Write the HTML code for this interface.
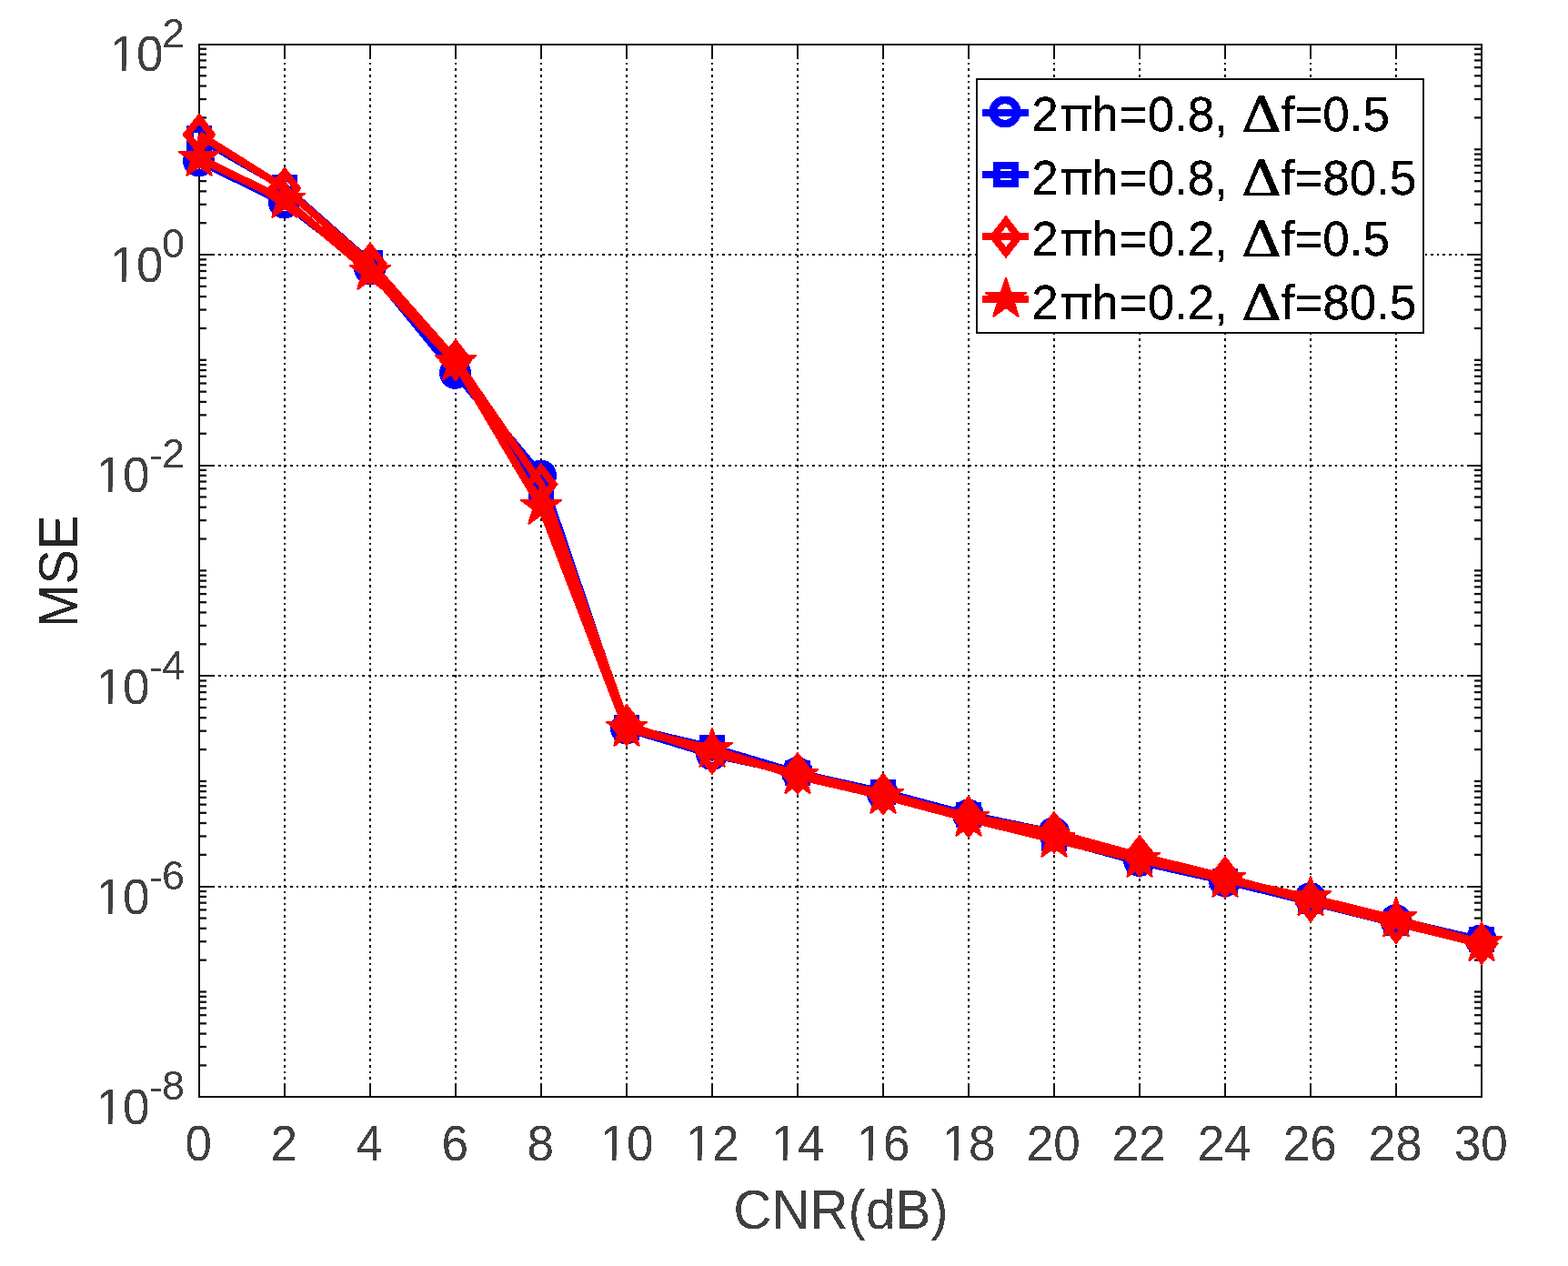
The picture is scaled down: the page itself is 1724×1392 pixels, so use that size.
<!DOCTYPE html>
<html lang="en"><head><meta charset="utf-8"><title>MSE versus CNR</title>
<style>html,body{margin:0;padding:0;background:#fff}body{width:1724px;height:1392px;overflow:hidden}svg{display:block}text{font-family:"Liberation Sans", sans-serif}</style>
</head><body>
<svg width="1724" height="1392" viewBox="0 0 1724 1392" role="img" aria-label="MSE versus CNR(dB)">
<rect x="0" y="0" width="1724" height="1392" fill="#ffffff"/>
<defs><filter id="hard" x="-5%" y="-5%" width="110%" height="110%" color-interpolation-filters="sRGB"><feComponentTransfer><feFuncA type="discrete" tableValues="0 1"/></feComponentTransfer></filter></defs>
<g id="grid" stroke="#000000" stroke-width="2" fill="none" stroke-dasharray="2.6 4" shape-rendering="crispEdges">
<line x1="313" y1="1206.5" x2="313" y2="49"/>
<line x1="407" y1="1206.5" x2="407" y2="49"/>
<line x1="501" y1="1206.5" x2="501" y2="49"/>
<line x1="595" y1="1206.5" x2="595" y2="49"/>
<line x1="689" y1="1206.5" x2="689" y2="49"/>
<line x1="783" y1="1206.5" x2="783" y2="49"/>
<line x1="877" y1="1206.5" x2="877" y2="49"/>
<line x1="971" y1="1206.5" x2="971" y2="49"/>
<line x1="1065" y1="1206.5" x2="1065" y2="49"/>
<line x1="1159" y1="1206.5" x2="1159" y2="49"/>
<line x1="1253" y1="1206.5" x2="1253" y2="49"/>
<line x1="1347" y1="1206.5" x2="1347" y2="49"/>
<line x1="1441" y1="1206.5" x2="1441" y2="49"/>
<line x1="1535" y1="1206.5" x2="1535" y2="49"/>
<line x1="220.2" y1="280" x2="1629" y2="280"/>
<line x1="220.2" y1="512" x2="1629" y2="512"/>
<line x1="220.2" y1="743" x2="1629" y2="743"/>
<line x1="220.2" y1="975" x2="1629" y2="975"/>
</g>
<g id="ticks-major" stroke="#111111" stroke-width="2" fill="none" shape-rendering="crispEdges">
<line x1="313" y1="1206" x2="313" y2="1191"/>
<line x1="313" y1="49" x2="313" y2="64"/>
<line x1="407" y1="1206" x2="407" y2="1191"/>
<line x1="407" y1="49" x2="407" y2="64"/>
<line x1="501" y1="1206" x2="501" y2="1191"/>
<line x1="501" y1="49" x2="501" y2="64"/>
<line x1="595" y1="1206" x2="595" y2="1191"/>
<line x1="595" y1="49" x2="595" y2="64"/>
<line x1="689" y1="1206" x2="689" y2="1191"/>
<line x1="689" y1="49" x2="689" y2="64"/>
<line x1="783" y1="1206" x2="783" y2="1191"/>
<line x1="783" y1="49" x2="783" y2="64"/>
<line x1="877" y1="1206" x2="877" y2="1191"/>
<line x1="877" y1="49" x2="877" y2="64"/>
<line x1="971" y1="1206" x2="971" y2="1191"/>
<line x1="971" y1="49" x2="971" y2="64"/>
<line x1="1065" y1="1206" x2="1065" y2="1191"/>
<line x1="1065" y1="49" x2="1065" y2="64"/>
<line x1="1159" y1="1206" x2="1159" y2="1191"/>
<line x1="1159" y1="49" x2="1159" y2="64"/>
<line x1="1253" y1="1206" x2="1253" y2="1191"/>
<line x1="1253" y1="49" x2="1253" y2="64"/>
<line x1="1347" y1="1206" x2="1347" y2="1191"/>
<line x1="1347" y1="49" x2="1347" y2="64"/>
<line x1="1441" y1="1206" x2="1441" y2="1191"/>
<line x1="1441" y1="49" x2="1441" y2="64"/>
<line x1="1535" y1="1206" x2="1535" y2="1191"/>
<line x1="1535" y1="49" x2="1535" y2="64"/>
<line x1="219" y1="280" x2="234" y2="280"/>
<line x1="1629" y1="280" x2="1614" y2="280"/>
<line x1="219" y1="512" x2="234" y2="512"/>
<line x1="1629" y1="512" x2="1614" y2="512"/>
<line x1="219" y1="743" x2="234" y2="743"/>
<line x1="1629" y1="743" x2="1614" y2="743"/>
<line x1="219" y1="975" x2="234" y2="975"/>
<line x1="1629" y1="975" x2="1614" y2="975"/>
</g>
<g id="ticks-minor" stroke="#101010" stroke-width="2.3" fill="none">
<line x1="219" y1="1171.43" x2="227" y2="1171.43"/>
<line x1="1629" y1="1171.43" x2="1621" y2="1171.43"/>
<line x1="219" y1="1151.04" x2="227" y2="1151.04"/>
<line x1="1629" y1="1151.04" x2="1621" y2="1151.04"/>
<line x1="219" y1="1136.57" x2="227" y2="1136.57"/>
<line x1="1629" y1="1136.57" x2="1621" y2="1136.57"/>
<line x1="219" y1="1125.35" x2="227" y2="1125.35"/>
<line x1="1629" y1="1125.35" x2="1621" y2="1125.35"/>
<line x1="219" y1="1116.19" x2="227" y2="1116.19"/>
<line x1="1629" y1="1116.19" x2="1621" y2="1116.19"/>
<line x1="219" y1="1108.43" x2="227" y2="1108.43"/>
<line x1="1629" y1="1108.43" x2="1621" y2="1108.43"/>
<line x1="219" y1="1101.72" x2="227" y2="1101.72"/>
<line x1="1629" y1="1101.72" x2="1621" y2="1101.72"/>
<line x1="219" y1="1095.8" x2="227" y2="1095.8"/>
<line x1="1629" y1="1095.8" x2="1621" y2="1095.8"/>
<line x1="219" y1="1090.5" x2="227" y2="1090.5"/>
<line x1="1629" y1="1090.5" x2="1621" y2="1090.5"/>
<line x1="219" y1="1055.65" x2="227" y2="1055.65"/>
<line x1="1629" y1="1055.65" x2="1621" y2="1055.65"/>
<line x1="219" y1="1035.26" x2="227" y2="1035.26"/>
<line x1="1629" y1="1035.26" x2="1621" y2="1035.26"/>
<line x1="219" y1="1020.79" x2="227" y2="1020.79"/>
<line x1="1629" y1="1020.79" x2="1621" y2="1020.79"/>
<line x1="219" y1="1009.57" x2="227" y2="1009.57"/>
<line x1="1629" y1="1009.57" x2="1621" y2="1009.57"/>
<line x1="219" y1="1000.41" x2="227" y2="1000.41"/>
<line x1="1629" y1="1000.41" x2="1621" y2="1000.41"/>
<line x1="219" y1="992.65" x2="227" y2="992.65"/>
<line x1="1629" y1="992.65" x2="1621" y2="992.65"/>
<line x1="219" y1="985.94" x2="227" y2="985.94"/>
<line x1="1629" y1="985.94" x2="1621" y2="985.94"/>
<line x1="219" y1="980.02" x2="227" y2="980.02"/>
<line x1="1629" y1="980.02" x2="1621" y2="980.02"/>
<line x1="219" y1="939.87" x2="227" y2="939.87"/>
<line x1="1629" y1="939.87" x2="1621" y2="939.87"/>
<line x1="219" y1="919.48" x2="227" y2="919.48"/>
<line x1="1629" y1="919.48" x2="1621" y2="919.48"/>
<line x1="219" y1="905.01" x2="227" y2="905.01"/>
<line x1="1629" y1="905.01" x2="1621" y2="905.01"/>
<line x1="219" y1="893.79" x2="227" y2="893.79"/>
<line x1="1629" y1="893.79" x2="1621" y2="893.79"/>
<line x1="219" y1="884.63" x2="227" y2="884.63"/>
<line x1="1629" y1="884.63" x2="1621" y2="884.63"/>
<line x1="219" y1="876.87" x2="227" y2="876.87"/>
<line x1="1629" y1="876.87" x2="1621" y2="876.87"/>
<line x1="219" y1="870.16" x2="227" y2="870.16"/>
<line x1="1629" y1="870.16" x2="1621" y2="870.16"/>
<line x1="219" y1="864.24" x2="227" y2="864.24"/>
<line x1="1629" y1="864.24" x2="1621" y2="864.24"/>
<line x1="219" y1="858.94" x2="227" y2="858.94"/>
<line x1="1629" y1="858.94" x2="1621" y2="858.94"/>
<line x1="219" y1="824.09" x2="227" y2="824.09"/>
<line x1="1629" y1="824.09" x2="1621" y2="824.09"/>
<line x1="219" y1="803.7" x2="227" y2="803.7"/>
<line x1="1629" y1="803.7" x2="1621" y2="803.7"/>
<line x1="219" y1="789.23" x2="227" y2="789.23"/>
<line x1="1629" y1="789.23" x2="1621" y2="789.23"/>
<line x1="219" y1="778.01" x2="227" y2="778.01"/>
<line x1="1629" y1="778.01" x2="1621" y2="778.01"/>
<line x1="219" y1="768.85" x2="227" y2="768.85"/>
<line x1="1629" y1="768.85" x2="1621" y2="768.85"/>
<line x1="219" y1="761.09" x2="227" y2="761.09"/>
<line x1="1629" y1="761.09" x2="1621" y2="761.09"/>
<line x1="219" y1="754.38" x2="227" y2="754.38"/>
<line x1="1629" y1="754.38" x2="1621" y2="754.38"/>
<line x1="219" y1="748.46" x2="227" y2="748.46"/>
<line x1="1629" y1="748.46" x2="1621" y2="748.46"/>
<line x1="219" y1="708.31" x2="227" y2="708.31"/>
<line x1="1629" y1="708.31" x2="1621" y2="708.31"/>
<line x1="219" y1="687.92" x2="227" y2="687.92"/>
<line x1="1629" y1="687.92" x2="1621" y2="687.92"/>
<line x1="219" y1="673.45" x2="227" y2="673.45"/>
<line x1="1629" y1="673.45" x2="1621" y2="673.45"/>
<line x1="219" y1="662.23" x2="227" y2="662.23"/>
<line x1="1629" y1="662.23" x2="1621" y2="662.23"/>
<line x1="219" y1="653.07" x2="227" y2="653.07"/>
<line x1="1629" y1="653.07" x2="1621" y2="653.07"/>
<line x1="219" y1="645.31" x2="227" y2="645.31"/>
<line x1="1629" y1="645.31" x2="1621" y2="645.31"/>
<line x1="219" y1="638.6" x2="227" y2="638.6"/>
<line x1="1629" y1="638.6" x2="1621" y2="638.6"/>
<line x1="219" y1="632.68" x2="227" y2="632.68"/>
<line x1="1629" y1="632.68" x2="1621" y2="632.68"/>
<line x1="219" y1="627.38" x2="227" y2="627.38"/>
<line x1="1629" y1="627.38" x2="1621" y2="627.38"/>
<line x1="219" y1="592.53" x2="227" y2="592.53"/>
<line x1="1629" y1="592.53" x2="1621" y2="592.53"/>
<line x1="219" y1="572.14" x2="227" y2="572.14"/>
<line x1="1629" y1="572.14" x2="1621" y2="572.14"/>
<line x1="219" y1="557.67" x2="227" y2="557.67"/>
<line x1="1629" y1="557.67" x2="1621" y2="557.67"/>
<line x1="219" y1="546.45" x2="227" y2="546.45"/>
<line x1="1629" y1="546.45" x2="1621" y2="546.45"/>
<line x1="219" y1="537.29" x2="227" y2="537.29"/>
<line x1="1629" y1="537.29" x2="1621" y2="537.29"/>
<line x1="219" y1="529.53" x2="227" y2="529.53"/>
<line x1="1629" y1="529.53" x2="1621" y2="529.53"/>
<line x1="219" y1="522.82" x2="227" y2="522.82"/>
<line x1="1629" y1="522.82" x2="1621" y2="522.82"/>
<line x1="219" y1="516.9" x2="227" y2="516.9"/>
<line x1="1629" y1="516.9" x2="1621" y2="516.9"/>
<line x1="219" y1="476.75" x2="227" y2="476.75"/>
<line x1="1629" y1="476.75" x2="1621" y2="476.75"/>
<line x1="219" y1="456.36" x2="227" y2="456.36"/>
<line x1="1629" y1="456.36" x2="1621" y2="456.36"/>
<line x1="219" y1="441.89" x2="227" y2="441.89"/>
<line x1="1629" y1="441.89" x2="1621" y2="441.89"/>
<line x1="219" y1="430.67" x2="227" y2="430.67"/>
<line x1="1629" y1="430.67" x2="1621" y2="430.67"/>
<line x1="219" y1="421.51" x2="227" y2="421.51"/>
<line x1="1629" y1="421.51" x2="1621" y2="421.51"/>
<line x1="219" y1="413.75" x2="227" y2="413.75"/>
<line x1="1629" y1="413.75" x2="1621" y2="413.75"/>
<line x1="219" y1="407.04" x2="227" y2="407.04"/>
<line x1="1629" y1="407.04" x2="1621" y2="407.04"/>
<line x1="219" y1="401.12" x2="227" y2="401.12"/>
<line x1="1629" y1="401.12" x2="1621" y2="401.12"/>
<line x1="219" y1="395.82" x2="227" y2="395.82"/>
<line x1="1629" y1="395.82" x2="1621" y2="395.82"/>
<line x1="219" y1="360.97" x2="227" y2="360.97"/>
<line x1="1629" y1="360.97" x2="1621" y2="360.97"/>
<line x1="219" y1="340.58" x2="227" y2="340.58"/>
<line x1="1629" y1="340.58" x2="1621" y2="340.58"/>
<line x1="219" y1="326.11" x2="227" y2="326.11"/>
<line x1="1629" y1="326.11" x2="1621" y2="326.11"/>
<line x1="219" y1="314.89" x2="227" y2="314.89"/>
<line x1="1629" y1="314.89" x2="1621" y2="314.89"/>
<line x1="219" y1="305.73" x2="227" y2="305.73"/>
<line x1="1629" y1="305.73" x2="1621" y2="305.73"/>
<line x1="219" y1="297.97" x2="227" y2="297.97"/>
<line x1="1629" y1="297.97" x2="1621" y2="297.97"/>
<line x1="219" y1="291.26" x2="227" y2="291.26"/>
<line x1="1629" y1="291.26" x2="1621" y2="291.26"/>
<line x1="219" y1="285.34" x2="227" y2="285.34"/>
<line x1="1629" y1="285.34" x2="1621" y2="285.34"/>
<line x1="219" y1="245.19" x2="227" y2="245.19"/>
<line x1="1629" y1="245.19" x2="1621" y2="245.19"/>
<line x1="219" y1="224.8" x2="227" y2="224.8"/>
<line x1="1629" y1="224.8" x2="1621" y2="224.8"/>
<line x1="219" y1="210.33" x2="227" y2="210.33"/>
<line x1="1629" y1="210.33" x2="1621" y2="210.33"/>
<line x1="219" y1="199.11" x2="227" y2="199.11"/>
<line x1="1629" y1="199.11" x2="1621" y2="199.11"/>
<line x1="219" y1="189.95" x2="227" y2="189.95"/>
<line x1="1629" y1="189.95" x2="1621" y2="189.95"/>
<line x1="219" y1="182.19" x2="227" y2="182.19"/>
<line x1="1629" y1="182.19" x2="1621" y2="182.19"/>
<line x1="219" y1="175.48" x2="227" y2="175.48"/>
<line x1="1629" y1="175.48" x2="1621" y2="175.48"/>
<line x1="219" y1="169.56" x2="227" y2="169.56"/>
<line x1="1629" y1="169.56" x2="1621" y2="169.56"/>
<line x1="219" y1="164.26" x2="227" y2="164.26"/>
<line x1="1629" y1="164.26" x2="1621" y2="164.26"/>
<line x1="219" y1="129.41" x2="227" y2="129.41"/>
<line x1="1629" y1="129.41" x2="1621" y2="129.41"/>
<line x1="219" y1="109.02" x2="227" y2="109.02"/>
<line x1="1629" y1="109.02" x2="1621" y2="109.02"/>
<line x1="219" y1="94.55" x2="227" y2="94.55"/>
<line x1="1629" y1="94.55" x2="1621" y2="94.55"/>
<line x1="219" y1="83.33" x2="227" y2="83.33"/>
<line x1="1629" y1="83.33" x2="1621" y2="83.33"/>
<line x1="219" y1="74.17" x2="227" y2="74.17"/>
<line x1="1629" y1="74.17" x2="1621" y2="74.17"/>
<line x1="219" y1="66.41" x2="227" y2="66.41"/>
<line x1="1629" y1="66.41" x2="1621" y2="66.41"/>
<line x1="219" y1="59.7" x2="227" y2="59.7"/>
<line x1="1629" y1="59.7" x2="1621" y2="59.7"/>
<line x1="219" y1="53.78" x2="227" y2="53.78"/>
<line x1="1629" y1="53.78" x2="1621" y2="53.78"/>
</g>
<rect id="box" x="219" y="49" width="1410" height="1157" fill="none" stroke="#0a0a0a" stroke-width="2" shape-rendering="crispEdges"/>
<g id="data" shape-rendering="crispEdges">
<polyline points="219,177 313,223 407,295.5 501,410.3 595,523 689,801 783,829.5 877,849.7 971,873 1065,896 1159,915.6 1253,946.4 1347,968.8 1441,987.6 1535,1011.9 1629,1033.8" fill="none" stroke="#0000ff" stroke-width="8.4" stroke-linejoin="round"/>
<circle cx="218.6" cy="177" r="13.2" fill="none" stroke="#0000ff" stroke-width="8.6"/>
<circle cx="312.6" cy="223" r="13.2" fill="none" stroke="#0000ff" stroke-width="8.6"/>
<circle cx="406.6" cy="295.5" r="13.2" fill="none" stroke="#0000ff" stroke-width="8.6"/>
<circle cx="500.6" cy="410.3" r="13.2" fill="none" stroke="#0000ff" stroke-width="8.6"/>
<circle cx="594.6" cy="523" r="13.2" fill="none" stroke="#0000ff" stroke-width="8.6"/>
<circle cx="688.6" cy="801" r="13.2" fill="none" stroke="#0000ff" stroke-width="8.6"/>
<circle cx="782.6" cy="829.5" r="13.2" fill="none" stroke="#0000ff" stroke-width="8.6"/>
<circle cx="876.6" cy="849.7" r="13.2" fill="none" stroke="#0000ff" stroke-width="8.6"/>
<circle cx="970.6" cy="873" r="13.2" fill="none" stroke="#0000ff" stroke-width="8.6"/>
<circle cx="1064.6" cy="896" r="13.2" fill="none" stroke="#0000ff" stroke-width="8.6"/>
<circle cx="1158.6" cy="915.6" r="13.2" fill="none" stroke="#0000ff" stroke-width="8.6"/>
<circle cx="1252.6" cy="946.4" r="13.2" fill="none" stroke="#0000ff" stroke-width="8.6"/>
<circle cx="1346.6" cy="968.8" r="13.2" fill="none" stroke="#0000ff" stroke-width="8.6"/>
<circle cx="1440.6" cy="987.6" r="13.2" fill="none" stroke="#0000ff" stroke-width="8.6"/>
<circle cx="1534.6" cy="1011.9" r="13.2" fill="none" stroke="#0000ff" stroke-width="8.6"/>
<circle cx="1628.6" cy="1033.8" r="13.2" fill="none" stroke="#0000ff" stroke-width="8.6"/>
<polyline points="219,152 313,206 407,289 501,405 595,538 689,800 783,822 877,850 971,871 1065,896 1159,921.7 1253,947.5 1347,968.5 1441,991.5 1535,1015.3 1629,1033" fill="none" stroke="#0000ff" stroke-width="8.4" stroke-linejoin="round"/>
<rect x="209.1" y="142.1" width="19.8" height="19.8" fill="none" stroke="#0000ff" stroke-width="8"/>
<rect x="303.1" y="196.1" width="19.8" height="19.8" fill="none" stroke="#0000ff" stroke-width="8"/>
<rect x="397.1" y="279.1" width="19.8" height="19.8" fill="none" stroke="#0000ff" stroke-width="8"/>
<rect x="491.1" y="395.1" width="19.8" height="19.8" fill="none" stroke="#0000ff" stroke-width="8"/>
<rect x="585.1" y="528.1" width="19.8" height="19.8" fill="none" stroke="#0000ff" stroke-width="8"/>
<rect x="679.1" y="790.1" width="19.8" height="19.8" fill="none" stroke="#0000ff" stroke-width="8"/>
<rect x="773.1" y="812.1" width="19.8" height="19.8" fill="none" stroke="#0000ff" stroke-width="8"/>
<rect x="867.1" y="840.1" width="19.8" height="19.8" fill="none" stroke="#0000ff" stroke-width="8"/>
<rect x="961.1" y="861.1" width="19.8" height="19.8" fill="none" stroke="#0000ff" stroke-width="8"/>
<rect x="1055.1" y="886.1" width="19.8" height="19.8" fill="none" stroke="#0000ff" stroke-width="8"/>
<rect x="1149.1" y="911.8" width="19.8" height="19.8" fill="none" stroke="#0000ff" stroke-width="8"/>
<rect x="1243.1" y="937.6" width="19.8" height="19.8" fill="none" stroke="#0000ff" stroke-width="8"/>
<rect x="1337.1" y="958.6" width="19.8" height="19.8" fill="none" stroke="#0000ff" stroke-width="8"/>
<rect x="1431.1" y="981.6" width="19.8" height="19.8" fill="none" stroke="#0000ff" stroke-width="8"/>
<rect x="1525.1" y="1005.4" width="19.8" height="19.8" fill="none" stroke="#0000ff" stroke-width="8"/>
<rect x="1619.1" y="1023.1" width="19.8" height="19.8" fill="none" stroke="#0000ff" stroke-width="8"/>
<polyline points="219,148 313,207 407,289.7 501,396 595,532.5 689,797.4 783,828.3 877,850.5 971,873 1065,898.2 1159,915.5 1253,941.3 1347,964.6 1441,990.9 1535,1014.7 1629,1037.7" fill="none" stroke="#ff0000" stroke-width="8.4" stroke-linejoin="round"/>
<polygon points="219,130.6 232.6,148 219,165.4 205.4,148" fill="none" stroke="#ff0000" stroke-width="8" stroke-linejoin="miter" stroke-miterlimit="10"/>
<polygon points="313,189.6 326.6,207 313,224.4 299.4,207" fill="none" stroke="#ff0000" stroke-width="8" stroke-linejoin="miter" stroke-miterlimit="10"/>
<polygon points="407,272.3 420.6,289.7 407,307.1 393.4,289.7" fill="none" stroke="#ff0000" stroke-width="8" stroke-linejoin="miter" stroke-miterlimit="10"/>
<polygon points="501,378.6 514.6,396 501,413.4 487.4,396" fill="none" stroke="#ff0000" stroke-width="8" stroke-linejoin="miter" stroke-miterlimit="10"/>
<polygon points="595,515.1 608.6,532.5 595,549.9 581.4,532.5" fill="none" stroke="#ff0000" stroke-width="8" stroke-linejoin="miter" stroke-miterlimit="10"/>
<polygon points="689,780 702.6,797.4 689,814.8 675.4,797.4" fill="none" stroke="#ff0000" stroke-width="8" stroke-linejoin="miter" stroke-miterlimit="10"/>
<polygon points="783,810.9 796.6,828.3 783,845.7 769.4,828.3" fill="none" stroke="#ff0000" stroke-width="8" stroke-linejoin="miter" stroke-miterlimit="10"/>
<polygon points="877,833.1 890.6,850.5 877,867.9 863.4,850.5" fill="none" stroke="#ff0000" stroke-width="8" stroke-linejoin="miter" stroke-miterlimit="10"/>
<polygon points="971,855.6 984.6,873 971,890.4 957.4,873" fill="none" stroke="#ff0000" stroke-width="8" stroke-linejoin="miter" stroke-miterlimit="10"/>
<polygon points="1065,880.8 1078.6,898.2 1065,915.6 1051.4,898.2" fill="none" stroke="#ff0000" stroke-width="8" stroke-linejoin="miter" stroke-miterlimit="10"/>
<polygon points="1159,898.1 1172.6,915.5 1159,932.9 1145.4,915.5" fill="none" stroke="#ff0000" stroke-width="8" stroke-linejoin="miter" stroke-miterlimit="10"/>
<polygon points="1253,923.9 1266.6,941.3 1253,958.7 1239.4,941.3" fill="none" stroke="#ff0000" stroke-width="8" stroke-linejoin="miter" stroke-miterlimit="10"/>
<polygon points="1347,947.2 1360.6,964.6 1347,982 1333.4,964.6" fill="none" stroke="#ff0000" stroke-width="8" stroke-linejoin="miter" stroke-miterlimit="10"/>
<polygon points="1441,973.5 1454.6,990.9 1441,1008.3 1427.4,990.9" fill="none" stroke="#ff0000" stroke-width="8" stroke-linejoin="miter" stroke-miterlimit="10"/>
<polygon points="1535,997.3 1548.6,1014.7 1535,1032.1 1521.4,1014.7" fill="none" stroke="#ff0000" stroke-width="8" stroke-linejoin="miter" stroke-miterlimit="10"/>
<polygon points="1629,1020.3 1642.6,1037.7 1629,1055.1 1615.4,1037.7" fill="none" stroke="#ff0000" stroke-width="8" stroke-linejoin="miter" stroke-miterlimit="10"/>
<polyline points="219,174 313,220 407,299 501,398.5 595,557 689,801 783,824 877,853.3 971,875 1065,900 1159,923 1253,945 1347,967 1441,987.3 1535,1010.5 1629,1037.2" fill="none" stroke="#ff0000" stroke-width="8.4" stroke-linejoin="round"/>
<polygon points="218.03,150 219.97,150 225.06,165.66 241.52,165.66 242.13,167.51 228.81,177.19 233.9,192.84 232.32,193.99 219,184.31 205.68,193.99 204.1,192.84 209.19,177.19 195.87,167.51 196.48,165.66 212.94,165.66" fill="#ff0000" stroke="none"/>
<polygon points="312.03,196 313.97,196 319.06,211.66 335.52,211.66 336.13,213.51 322.81,223.19 327.9,238.84 326.32,239.99 313,230.31 299.68,239.99 298.1,238.84 303.19,223.19 289.87,213.51 290.48,211.66 306.94,211.66" fill="#ff0000" stroke="none"/>
<polygon points="406.03,275 407.97,275 413.06,290.66 429.52,290.66 430.13,292.51 416.81,302.19 421.9,317.84 420.32,318.99 407,309.31 393.68,318.99 392.1,317.84 397.19,302.19 383.87,292.51 384.48,290.66 400.94,290.66" fill="#ff0000" stroke="none"/>
<polygon points="500.03,374.5 501.97,374.5 507.06,390.16 523.52,390.16 524.13,392.01 510.81,401.69 515.9,417.34 514.32,418.49 501,408.81 487.68,418.49 486.1,417.34 491.19,401.69 477.87,392.01 478.48,390.16 494.94,390.16" fill="#ff0000" stroke="none"/>
<polygon points="594.03,533 595.97,533 601.06,548.66 617.52,548.66 618.13,550.51 604.81,560.19 609.9,575.84 608.32,576.99 595,567.31 581.68,576.99 580.1,575.84 585.19,560.19 571.87,550.51 572.48,548.66 588.94,548.66" fill="#ff0000" stroke="none"/>
<polygon points="688.03,777 689.97,777 695.06,792.66 711.52,792.66 712.13,794.51 698.81,804.19 703.9,819.84 702.32,820.99 689,811.31 675.68,820.99 674.1,819.84 679.19,804.19 665.87,794.51 666.48,792.66 682.94,792.66" fill="#ff0000" stroke="none"/>
<polygon points="782.03,800 783.97,800 789.06,815.66 805.52,815.66 806.13,817.51 792.81,827.19 797.9,842.84 796.32,843.99 783,834.31 769.68,843.99 768.1,842.84 773.19,827.19 759.87,817.51 760.48,815.66 776.94,815.66" fill="#ff0000" stroke="none"/>
<polygon points="876.03,829.3 877.97,829.3 883.06,844.96 899.52,844.96 900.13,846.81 886.81,856.49 891.9,872.14 890.32,873.29 877,863.61 863.68,873.29 862.1,872.14 867.19,856.49 853.87,846.81 854.48,844.96 870.94,844.96" fill="#ff0000" stroke="none"/>
<polygon points="970.03,851 971.97,851 977.06,866.66 993.52,866.66 994.13,868.51 980.81,878.19 985.9,893.84 984.32,894.99 971,885.31 957.68,894.99 956.1,893.84 961.19,878.19 947.87,868.51 948.48,866.66 964.94,866.66" fill="#ff0000" stroke="none"/>
<polygon points="1064.03,876 1065.97,876 1071.06,891.66 1087.52,891.66 1088.13,893.51 1074.81,903.19 1079.9,918.84 1078.32,919.99 1065,910.31 1051.68,919.99 1050.1,918.84 1055.19,903.19 1041.87,893.51 1042.48,891.66 1058.94,891.66" fill="#ff0000" stroke="none"/>
<polygon points="1158.03,899 1159.97,899 1165.06,914.66 1181.52,914.66 1182.13,916.51 1168.81,926.19 1173.9,941.84 1172.32,942.99 1159,933.31 1145.68,942.99 1144.1,941.84 1149.19,926.19 1135.87,916.51 1136.48,914.66 1152.94,914.66" fill="#ff0000" stroke="none"/>
<polygon points="1252.03,921 1253.97,921 1259.06,936.66 1275.52,936.66 1276.13,938.51 1262.81,948.19 1267.9,963.84 1266.32,964.99 1253,955.31 1239.68,964.99 1238.1,963.84 1243.19,948.19 1229.87,938.51 1230.48,936.66 1246.94,936.66" fill="#ff0000" stroke="none"/>
<polygon points="1346.03,943 1347.97,943 1353.06,958.66 1369.52,958.66 1370.13,960.51 1356.81,970.19 1361.9,985.84 1360.32,986.99 1347,977.31 1333.68,986.99 1332.1,985.84 1337.19,970.19 1323.87,960.51 1324.48,958.66 1340.94,958.66" fill="#ff0000" stroke="none"/>
<polygon points="1440.03,963.3 1441.97,963.3 1447.06,978.96 1463.52,978.96 1464.13,980.81 1450.81,990.49 1455.9,1006.14 1454.32,1007.29 1441,997.61 1427.68,1007.29 1426.1,1006.14 1431.19,990.49 1417.87,980.81 1418.48,978.96 1434.94,978.96" fill="#ff0000" stroke="none"/>
<polygon points="1534.03,986.5 1535.97,986.5 1541.06,1002.16 1557.52,1002.16 1558.13,1004.01 1544.81,1013.69 1549.9,1029.34 1548.32,1030.49 1535,1020.81 1521.68,1030.49 1520.1,1029.34 1525.19,1013.69 1511.87,1004.01 1512.48,1002.16 1528.94,1002.16" fill="#ff0000" stroke="none"/>
<polygon points="1628.03,1013.2 1629.97,1013.2 1635.06,1028.86 1651.52,1028.86 1652.13,1030.71 1638.81,1040.39 1643.9,1056.04 1642.32,1057.19 1629,1047.51 1615.68,1057.19 1614.1,1056.04 1619.19,1040.39 1605.87,1030.71 1606.48,1028.86 1622.94,1028.86" fill="#ff0000" stroke="none"/>
</g>
<g id="xticks" fill="#404040" font-size="53" text-anchor="middle" filter="url(#hard)">
<text transform="translate(218.3,1276) scale(1,1.03)" x="0" y="0">0</text>
<text transform="translate(312.3,1276) scale(1,1.03)" x="0" y="0">2</text>
<text transform="translate(406.3,1276) scale(1,1.03)" x="0" y="0">4</text>
<text transform="translate(500.3,1276) scale(1,1.03)" x="0" y="0">6</text>
<text transform="translate(594.3,1276) scale(1,1.03)" x="0" y="0">8</text>
<text transform="translate(689,1276) scale(1,1.03)" x="0" y="0">10</text>
<text transform="translate(783,1276) scale(1,1.03)" x="0" y="0">12</text>
<text transform="translate(877,1276) scale(1,1.03)" x="0" y="0">14</text>
<text transform="translate(971,1276) scale(1,1.03)" x="0" y="0">16</text>
<text transform="translate(1065,1276) scale(1,1.03)" x="0" y="0">18</text>
<text transform="translate(1158.3,1276) scale(1,1.03)" x="0" y="0">20</text>
<text transform="translate(1252.3,1276) scale(1,1.03)" x="0" y="0">22</text>
<text transform="translate(1346.3,1276) scale(1,1.03)" x="0" y="0">24</text>
<text transform="translate(1440.3,1276) scale(1,1.03)" x="0" y="0">26</text>
<text transform="translate(1534.3,1276) scale(1,1.03)" x="0" y="0">28</text>
<text transform="translate(1628.3,1276) scale(1,1.03)" x="0" y="0">30</text>
</g>
<g id="yticks" fill="#404040" font-size="53" filter="url(#hard)">
<text transform="translate(0,78) scale(1,1.03)" x="120.6" y="0">10</text><text font-size="45"><tspan x="178" y="52">2</tspan></text>
<text transform="translate(0,310) scale(1,1.03)" x="120.6" y="0">10</text><text font-size="45"><tspan x="178" y="282.6">0</tspan></text>
<text transform="translate(0,541) scale(1,1.03)" x="105.6" y="0">10</text><text font-size="45"><tspan x="163.9" y="514.9">-</tspan><tspan x="178" y="514">2</tspan></text>
<text transform="translate(0,774) scale(1,1.03)" x="105.6" y="0">10</text><text font-size="45"><tspan x="163.9" y="747.9">-</tspan><tspan x="178" y="747">4</tspan></text>
<text transform="translate(0,1005) scale(1,1.03)" x="105.6" y="0">10</text><text font-size="45"><tspan x="163.9" y="978.5">-</tspan><tspan x="178" y="977.6">6</tspan></text>
<text transform="translate(0,1236) scale(1,1.03)" x="105.6" y="0">10</text><text font-size="45"><tspan x="163.9" y="1210.2">-</tspan><tspan x="178" y="1209.3">8</tspan></text>
</g>
<g id="onefix" fill="#ffffff" stroke="none">
<rect x="662.06" y="1270.32" width="10.79" height="7.08"/><rect x="677.54" y="1270.32" width="10.38" height="7.08"/>
<rect x="756.06" y="1270.32" width="10.79" height="7.08"/><rect x="771.54" y="1270.32" width="10.38" height="7.08"/>
<rect x="850.06" y="1270.32" width="10.79" height="7.08"/><rect x="865.54" y="1270.32" width="10.38" height="7.08"/>
<rect x="944.06" y="1270.32" width="10.79" height="7.08"/><rect x="959.54" y="1270.32" width="10.38" height="7.08"/>
<rect x="1038.06" y="1270.32" width="10.79" height="7.08"/><rect x="1053.54" y="1270.32" width="10.38" height="7.08"/>
<rect x="123.14" y="72.32" width="10.79" height="7.08"/><rect x="138.61" y="72.32" width="10.38" height="7.08"/>
<rect x="123.14" y="304.32" width="10.79" height="7.08"/><rect x="138.61" y="304.32" width="10.38" height="7.08"/>
<rect x="108.14" y="535.32" width="10.79" height="7.08"/><rect x="123.61" y="535.32" width="10.38" height="7.08"/>
<rect x="108.14" y="768.32" width="10.79" height="7.08"/><rect x="123.61" y="768.32" width="10.38" height="7.08"/>
<rect x="108.14" y="999.32" width="10.79" height="7.08"/><rect x="123.61" y="999.32" width="10.38" height="7.08"/>
<rect x="108.14" y="1230.32" width="10.79" height="7.08"/><rect x="123.61" y="1230.32" width="10.38" height="7.08"/>
</g>
<text id="xlabel" filter="url(#hard)" transform="translate(924.5,1351) scale(1,1.04)" x="0" y="0" font-size="58.3" fill="#404040" text-anchor="middle">CNR(dB)</text>
<text id="ylabel" filter="url(#hard)" transform="translate(85,628.2) rotate(-90) scale(1,1.055)" font-size="57.3" fill="#262626" text-anchor="middle">MSE</text>
<g id="legend">
<rect x="1074" y="87" width="491" height="279" fill="#ffffff" stroke="#111111" stroke-width="2" shape-rendering="crispEdges"/>
<g shape-rendering="crispEdges"><line x1="1080" y1="124" x2="1131" y2="124" stroke="#0000ff" stroke-width="8"/><circle cx="1105" cy="123" r="13.2" fill="none" stroke="#0000ff" stroke-width="8.6"/></g>
<text filter="url(#hard)" transform="translate(0,144) scale(1,1.025)" font-size="53" fill="#000000" stroke="#000000" stroke-width="0.3"><tspan x="1134.3" y="0">2</tspan><tspan x="1166.3" y="0" stroke="none" font-family="'WenQuanYi Zen Hei', 'Liberation Sans', sans-serif" font-size="54.4" textLength="34.5" lengthAdjust="spacingAndGlyphs">π</tspan><tspan x="1200.3" y="0">h</tspan><tspan x="1230.7" y="0">=0.8,</tspan><tspan x="1350" y="0"> </tspan><tspan x="1365.1" y="1.0" stroke-width="1" font-family="'DejaVu Serif', 'Liberation Serif', serif" font-size="52" textLength="44" lengthAdjust="spacingAndGlyphs">Δ</tspan><tspan x="1408.7" y="0">f=0.5</tspan></text>
<g shape-rendering="crispEdges"><line x1="1080" y1="192" x2="1131" y2="192" stroke="#0000ff" stroke-width="8"/><rect x="1096.1" y="182.1" width="19.8" height="19.8" fill="none" stroke="#0000ff" stroke-width="8"/></g>
<text filter="url(#hard)" transform="translate(0,214) scale(1,1.025)" font-size="53" fill="#000000" stroke="#000000" stroke-width="0.3"><tspan x="1134.3" y="0">2</tspan><tspan x="1166.3" y="0" stroke="none" font-family="'WenQuanYi Zen Hei', 'Liberation Sans', sans-serif" font-size="54.4" textLength="34.5" lengthAdjust="spacingAndGlyphs">π</tspan><tspan x="1200.3" y="0">h</tspan><tspan x="1230.7" y="0">=0.8,</tspan><tspan x="1350" y="0"> </tspan><tspan x="1365.1" y="1.0" stroke-width="1" font-family="'DejaVu Serif', 'Liberation Serif', serif" font-size="52" textLength="44" lengthAdjust="spacingAndGlyphs">Δ</tspan><tspan x="1408.7" y="0">f=80.5</tspan></text>
<g shape-rendering="crispEdges"><line x1="1080" y1="260" x2="1131" y2="260" stroke="#ff0000" stroke-width="8"/><polygon points="1106,243 1119.6,260.4 1106,277.8 1092.4,260.4" fill="none" stroke="#ff0000" stroke-width="8" stroke-linejoin="miter" stroke-miterlimit="10"/></g>
<text filter="url(#hard)" transform="translate(0,281) scale(1,1.025)" font-size="53" fill="#000000" stroke="#000000" stroke-width="0.3"><tspan x="1134.3" y="0">2</tspan><tspan x="1166.3" y="0" stroke="none" font-family="'WenQuanYi Zen Hei', 'Liberation Sans', sans-serif" font-size="54.4" textLength="34.5" lengthAdjust="spacingAndGlyphs">π</tspan><tspan x="1200.3" y="0">h</tspan><tspan x="1230.7" y="0">=0.2,</tspan><tspan x="1350" y="0"> </tspan><tspan x="1365.1" y="1.0" stroke-width="1" font-family="'DejaVu Serif', 'Liberation Serif', serif" font-size="52" textLength="44" lengthAdjust="spacingAndGlyphs">Δ</tspan><tspan x="1408.7" y="0">f=0.5</tspan></text>
<g shape-rendering="crispEdges"><line x1="1080" y1="329" x2="1131" y2="329" stroke="#ff0000" stroke-width="8"/><polygon points="1105.03,305 1106.97,305 1112.06,320.66 1128.52,320.66 1129.13,322.51 1115.81,332.19 1120.9,347.84 1119.32,348.99 1106,339.31 1092.68,348.99 1091.1,347.84 1096.19,332.19 1082.87,322.51 1083.48,320.66 1099.94,320.66" fill="#ff0000" stroke="none"/></g>
<text filter="url(#hard)" transform="translate(0,351) scale(1,1.025)" font-size="53" fill="#000000" stroke="#000000" stroke-width="0.3"><tspan x="1134.3" y="0">2</tspan><tspan x="1166.3" y="0" stroke="none" font-family="'WenQuanYi Zen Hei', 'Liberation Sans', sans-serif" font-size="54.4" textLength="34.5" lengthAdjust="spacingAndGlyphs">π</tspan><tspan x="1200.3" y="0">h</tspan><tspan x="1230.7" y="0">=0.2,</tspan><tspan x="1350" y="0"> </tspan><tspan x="1365.1" y="1.0" stroke-width="1" font-family="'DejaVu Serif', 'Liberation Serif', serif" font-size="52" textLength="44" lengthAdjust="spacingAndGlyphs">Δ</tspan><tspan x="1408.7" y="0">f=80.5</tspan></text>
</g>
</svg>
</body></html>
